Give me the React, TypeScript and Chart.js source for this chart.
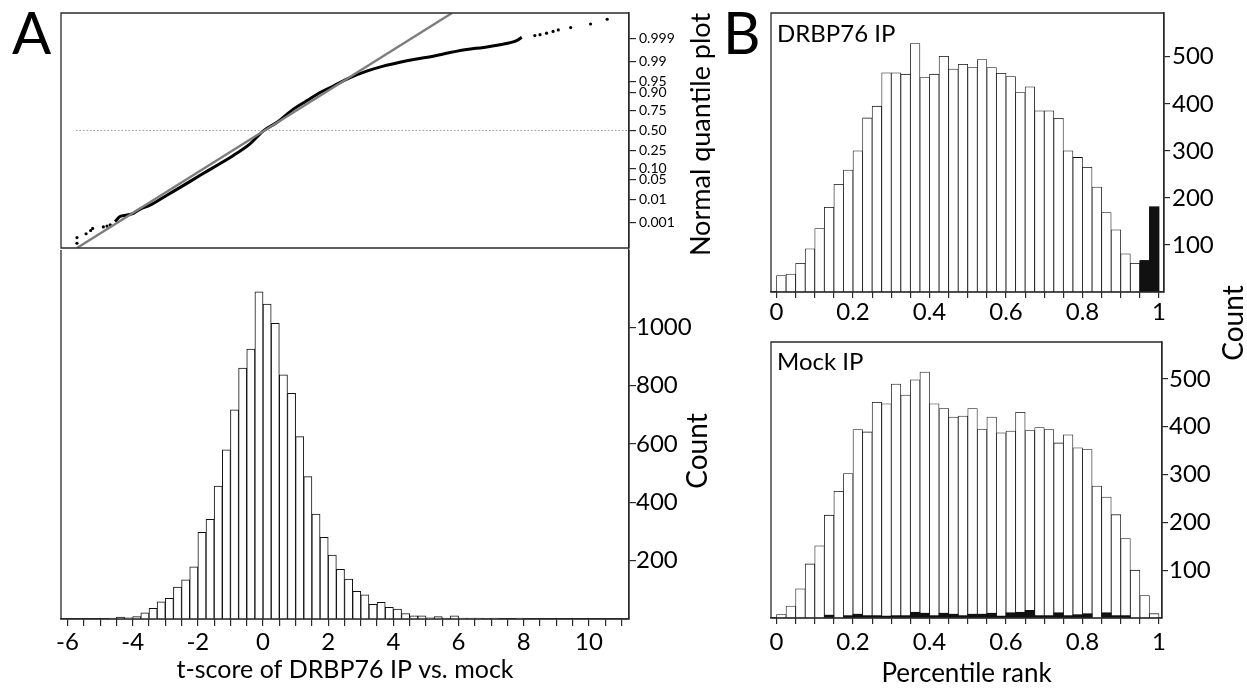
import React, { useEffect, useRef } from 'react';
import { Chart, registerables } from 'chart.js';

Chart.register(...registerables);

const FONT_FAMILY = 'Lato, "Open Sans", "DejaVu Sans", sans-serif';
const INK = '#000000';
const AXIS = '#2a2a2a';

// ---------------- Panel A : histogram of t-scores ----------------
const tScoreBinStart = -5;
const tScoreBinWidth = 0.25;
const tScoreCounts = [
  0, 3, 7, 4, 8, 21, 37, 59, 71, 109, 134, 179, 297, 342, 456, 580, 717, 860, 925, 1122,
  1080, 1014, 837, 774, 625, 488, 360, 280, 219, 170, 137, 95, 83, 50, 57, 40, 34, 19, 11, 11,
  4, 8, 3, 11, 3, 3, 3, 2, 3, 0, 0, 3,
];
const tScoreAxisMin = -6.2;
const tScoreAxisMax = 11.23;
const tScoreTickLabels = [-6, -4, -2, 0, 2, 4, 6, 8, 10];
const tScoreTickStep = 0.5;
const tScoreTickFirst = -6;
const tScoreTickLast = 11;
const countTicksA = [200, 400, 600, 800, 1000];
const countMaxA = 1265;

// ---------------- Panel A : normal quantile plot ----------------
const quantileLabels = ['0.999', '0.99', '0.95', '0.90', '0.75', '0.50', '0.25', '0.10', '0.05', '0.01', '0.001'];
const quantileZ = [3.09, 2.326, 1.645, 1.282, 0.674, 0, -0.674, -1.282, -1.645, -2.326, -3.09];
const quantileZMin = -3.96;
const quantileZMax = 3.96;
const curveT = [-4.54, -4.39, -4.18, -3.98, -3.77, -3.47, -2.95, -2.44, -1.93, -1.42, -0.91, -0.4, 0.01, 0.42, 0.93, 1.34, 1.75, 2.16, 2.67, 3.18, 3.69, 4.2, 4.71, 5.22, 5.53, 6.25, 6.76, 7.27, 7.78, 7.94];
const curveZ = [-3.07, -2.9, -2.85, -2.79, -2.65, -2.52, -2.18, -1.85, -1.51, -1.18, -0.84, -0.45, -0.01, 0.27, 0.72, 1.0, 1.28, 1.5, 1.78, 2.0, 2.17, 2.3, 2.41, 2.5, 2.58, 2.73, 2.8, 2.89, 3.03, 3.14];
const lowTailT = [-5.71, -5.71, -5.43, -5.29, -5.23, -4.9, -4.79, -4.69];
const lowTailZ = [-3.8, -3.61, -3.48, -3.37, -3.3, -3.25, -3.22, -3.18];
const highTailT = [8.34, 8.5, 8.7, 8.9, 9.06, 9.44, 10.05, 10.56];
const highTailZ = [3.2, 3.23, 3.28, 3.34, 3.39, 3.47, 3.59, 3.75];
const fitLineT = [-5.71, 5.8];
const fitLineZ = [-3.96, 3.96];
const medianLineT = [-5.74, 11.23];
const medianLineZ = [0, 0];

// ---------------- Panel B : percentile rank histograms ----------------
const rankBinWidth = 0.025;
const drbpCounts = [
  35, 38, 61, 92, 135, 180, 229, 259, 300, 370,
  395, 466, 466, 463, 528, 456, 463, 501, 474, 484,
  477, 494, 477, 465, 458, 424, 436, 385, 385, 369,
  300, 286, 265, 223, 169, 132, 81, 61, 67, 181,
];
const drbpTopCounts = [
  0, 0, 0, 0, 0, 0, 0, 0, 0, 0,
  0, 0, 0, 0, 0, 0, 0, 0, 0, 0,
  0, 0, 0, 0, 0, 0, 0, 0, 0, 0,
  0, 0, 0, 0, 0, 0, 0, 0, 67, 181,
];
const mockCounts = [
  7, 25, 61, 113, 151, 215, 265, 302, 394, 389,
  451, 448, 489, 466, 498, 514, 448, 438, 420, 422,
  438, 394, 420, 387, 391, 430, 392, 398, 394, 366,
  383, 356, 352, 276, 253, 216, 166, 100, 47, 9,
];
const mockTopCounts = [
  0, 0, 0, 0, 0, 6, 0, 5, 8, 5,
  5, 4, 5, 5, 12, 10, 5, 10, 8, 5,
  8, 8, 10, 4, 11, 12, 16, 5, 5, 11,
  5, 7, 9, 0, 11, 5, 5, 0, 0, 0,
];
const rankTickLabels = ['0', '0.2', '0.4', '0.6', '0.8', '1'];
const rankTickStep = 0.05;
const rankTicksPerLabel = 4;
const rankAxisMin = -0.0144;
const rankAxisMaxTop = 1.0131;
const rankAxisMaxBottom = 1.0078;
const countTicksB = [100, 200, 300, 400, 500];
const countMaxDrbp = 593;
const countMaxMock = 577;

// ---------------- helpers ----------------
const zip = (xs: number[], ys: number[]) => xs.map((x, i) => ({ x, y: ys[i] }));
const histPoints = (start: number, width: number, counts: number[]) =>
  counts.map((c, i) => ({ x: start + (i + 0.5) * width, y: c }));

const clearPadding = (s: any) => {
  s.paddingTop = 0;
  s.paddingBottom = 0;
  s.paddingLeft = 0;
  s.paddingRight = 0;
};

function makeFrame(skipTop: boolean) {
  return {
    id: 'frame',
    afterDatasetsDraw(chart: any) {
      const { ctx, chartArea } = chart;
      const { left, top, right, bottom } = chartArea;
      ctx.save();
      ctx.strokeStyle = AXIS;
      ctx.lineWidth = 1.3;
      ctx.beginPath();
      if (skipTop) {
        ctx.moveTo(left, top);
        ctx.lineTo(left, bottom);
        ctx.lineTo(right, bottom);
        ctx.lineTo(right, top);
      } else {
        ctx.rect(left, top, right - left, bottom - top);
      }
      ctx.stroke();
      ctx.restore();
    },
  };
}

function rightAxis(o: {
  min: number; max: number; ticks: number[]; labels?: string[]; width: number;
  size: number; tickLength: number; padding: number;
}) {
  return {
    type: 'linear',
    position: 'right',
    min: o.min,
    max: o.max,
    afterBuildTicks: (s: any) => { s.ticks = o.ticks.map((v) => ({ value: v })); },
    afterFit: (s: any) => { s.width = o.width; clearPadding(s); },
    ticks: {
      autoSkip: false,
      font: { family: FONT_FAMILY, size: o.size },
      color: INK,
      padding: o.padding,
      callback: (v: number) => {
        const i = o.ticks.indexOf(v);
        return o.labels ? o.labels[i] : String(v);
      },
    },
    grid: { display: true, drawOnChartArea: false, drawTicks: true, tickLength: o.tickLength, color: AXIS, lineWidth: 1.2 },
    border: { display: true, color: AXIS, width: 1.3 },
  };
}

function tScoreAxis(display: boolean, title?: string) {
  return {
    type: 'linear',
    display,
    min: tScoreAxisMin,
    max: tScoreAxisMax,
    offset: false,
    afterBuildTicks: (s: any) => {
      const t: { value: number }[] = [];
      for (let v = tScoreTickFirst; v <= tScoreTickLast + 1e-9; v += tScoreTickStep) t.push({ value: v });
      s.ticks = t;
    },
    afterFit: (s: any) => { s.height = display ? 70 : 0; clearPadding(s); },
    ticks: {
      autoSkip: false, maxRotation: 0, minRotation: 0,
      font: { family: FONT_FAMILY, size: 24 }, color: INK, padding: 2,
      callback: (v: number) => (tScoreTickLabels.includes(v) ? String(v) : ''),
    },
    grid: { display: true, offset: false, drawOnChartArea: false, drawTicks: true, tickLength: 7, color: AXIS, lineWidth: 1.2 },
    border: { display: true, color: AXIS, width: 1.3 },
    title: title
      ? { display: true, text: title, color: INK, font: { family: FONT_FAMILY, size: 25, lineHeight: 1.12 }, padding: { top: 0, bottom: 5 } }
      : { display: false },
  };
}

function rankAxis(max: number, height: number, padding: number, title?: string) {
  return {
    type: 'linear',
    min: rankAxisMin,
    max,
    offset: false,
    afterBuildTicks: (s: any) => {
      const t: { value: number }[] = [];
      const n = Math.round(1 / rankTickStep);
      for (let k = 0; k <= n; k++) t.push({ value: k * rankTickStep });
      s.ticks = t;
    },
    afterFit: (s: any) => { s.height = height; clearPadding(s); },
    ticks: {
      autoSkip: false, maxRotation: 0, minRotation: 0,
      font: { family: FONT_FAMILY, size: 24 }, color: INK, padding,
      callback: (_v: number, i: number) => (i % rankTicksPerLabel === 0 ? rankTickLabels[i / rankTicksPerLabel] : ''),
    },
    grid: { display: true, offset: false, drawOnChartArea: false, drawTicks: true, tickLength: 6, color: AXIS, lineWidth: 1.2 },
    border: { display: true, color: AXIS, width: 1.3 },
    title: title
      ? { display: true, text: title, color: INK, font: { family: FONT_FAMILY, size: 26, lineHeight: 1.12 }, padding: { top: 0, bottom: 1 } }
      : { display: false },
  };
}

const baseOptions = {
  animation: false,
  responsive: false,
  maintainAspectRatio: false,
  events: [],
  plugins: { legend: { display: false }, tooltip: { enabled: false }, title: { display: false } },
};

function quantileConfig(): any {
  return {
    type: 'scatter',
    data: {
      datasets: [
        { data: zip(medianLineT, medianLineZ), showLine: true, borderColor: '#9c9c9c', borderWidth: 1, borderDash: [1.5, 2], pointRadius: 0, order: 4 },
        { data: zip(curveT, curveZ), showLine: true, borderColor: '#000', borderWidth: 3, pointRadius: 0, cubicInterpolationMode: 'monotone', order: 2 },
        { data: [...zip(lowTailT, lowTailZ), ...zip(highTailT, highTailZ)], showLine: false, pointRadius: 1.6, backgroundColor: '#000', borderWidth: 0, order: 3 },
        { data: zip(fitLineT, fitLineZ), showLine: true, borderColor: '#7d7d7d', borderWidth: 2.4, pointRadius: 0, order: 1 },
      ],
    },
    options: {
      ...baseOptions,
      layout: { padding: { left: 61, top: 13, right: 0, bottom: 2 } },
      scales: {
        x: tScoreAxis(false),
        y: rightAxis({ min: quantileZMin, max: quantileZMax, ticks: quantileZ, labels: quantileLabels, width: 131, size: 14, tickLength: 7, padding: 3 }),
      },
    },
    plugins: [makeFrame(false)],
  };
}

function tHistConfig(): any {
  return {
    type: 'bar',
    data: {
      datasets: [
        {
          data: histPoints(tScoreBinStart, tScoreBinWidth, tScoreCounts),
          backgroundColor: '#ffffff', borderColor: '#111', borderWidth: 1,
        },
      ],
    },
    options: {
      ...baseOptions,
      grouped: false,
      categoryPercentage: 1,
      barPercentage: 1,
      layout: { padding: { left: 61, top: 10, right: 0, bottom: 0 } },
      scales: {
        x: tScoreAxis(true, 't-score of DRBP76 IP vs. mock'),
        y: rightAxis({ min: 0, max: countMaxA, ticks: countTicksA, width: 131, size: 24, tickLength: 7, padding: 0 }),
      },
    },
    plugins: [makeFrame(true)],
  };
}

function rankConfig(all: number[], top: number[], yMax: number, xMax: number, xHeight: number, xPad: number, padTop: number, yWidth: number, yPad: number, title?: string): any {
  return {
    type: 'bar',
    data: {
      datasets: [
        { data: histPoints(0, rankBinWidth, top), backgroundColor: '#111', borderWidth: 0, order: 0 },
        { data: histPoints(0, rankBinWidth, all), backgroundColor: '#ffffff', borderColor: '#111', borderWidth: 0.8, order: 1 },
      ],
    },
    options: {
      ...baseOptions,
      grouped: false,
      categoryPercentage: 1,
      barPercentage: 1,
      layout: { padding: { left: 71, top: padTop, right: 0, bottom: 0 } },
      scales: {
        x: rankAxis(xMax, xHeight, xPad, title),
        y: rightAxis({ min: 0, max: yMax, ticks: countTicksB, width: yWidth, size: 24, tickLength: 6, padding: yPad }),
      },
    },
    plugins: [makeFrame(false)],
  };
}

const textBase: React.CSSProperties = {
  position: 'absolute', fontFamily: FONT_FAMILY, color: INK, lineHeight: 1, whiteSpace: 'nowrap', margin: 0,
};

function VText({ cx, cy, size, text }: { cx: number; cy: number; size: number; text: string }) {
  return (
    <div style={{ ...textBase, width: 300, height: size, left: cx - 150, top: cy - size / 2, fontSize: size, textAlign: 'center', transform: 'rotate(-90deg)' }}>
      {text}
    </div>
  );
}

export default function App() {
  const a1 = useRef<HTMLCanvasElement>(null);
  const a2 = useRef<HTMLCanvasElement>(null);
  const b1 = useRef<HTMLCanvasElement>(null);
  const b2 = useRef<HTMLCanvasElement>(null);

  useEffect(() => {
    const charts: Chart[] = [];
    charts.push(new Chart(a1.current!, quantileConfig()));
    charts.push(new Chart(a2.current!, tHistConfig()));
    charts.push(new Chart(b1.current!, rankConfig(drbpCounts, drbpTopCounts, countMaxDrbp, rankAxisMaxTop, 38, 0, 13, 83, 2)));
    charts.push(new Chart(b2.current!, rankConfig(mockCounts, mockTopCounts, countMaxMock, rankAxisMaxBottom, 71, 4, 12, 85, 1, 'Percentile rank')));
    return () => charts.forEach((c) => c.destroy());
  }, []);

  return (
    <div style={{ position: 'absolute', left: 0, top: 0, width: 1247, height: 689, background: '#fff', overflow: 'hidden' }}>
      <canvas ref={a1} width={760} height={252} style={{ position: 'absolute', left: 0, top: 0 }} />
      <canvas ref={a2} width={760} height={449} style={{ position: 'absolute', left: 0, top: 240 }} />
      <canvas ref={b1} width={547} height={330} style={{ position: 'absolute', left: 700, top: 0 }} />
      <canvas ref={b2} width={547} height={359} style={{ position: 'absolute', left: 700, top: 330 }} />

      <div style={{ ...textBase, left: 12, top: 3, fontSize: 58 }}>A</div>
      <div style={{ ...textBase, left: 723, top: 3, fontSize: 58 }}>B</div>
      <div style={{ ...textBase, left: 777, top: 21, fontSize: 24 }}>DRBP76 IP</div>
      <div style={{ ...textBase, left: 777, top: 349, fontSize: 24 }}>Mock IP</div>
      <VText cx={699} cy={134} size={27} text="Normal quantile plot" />
      <VText cx={696} cy={451} size={28} text="Count" />
      <VText cx={1232} cy={323} size={28} text="Count" />
    </div>
  );
}
